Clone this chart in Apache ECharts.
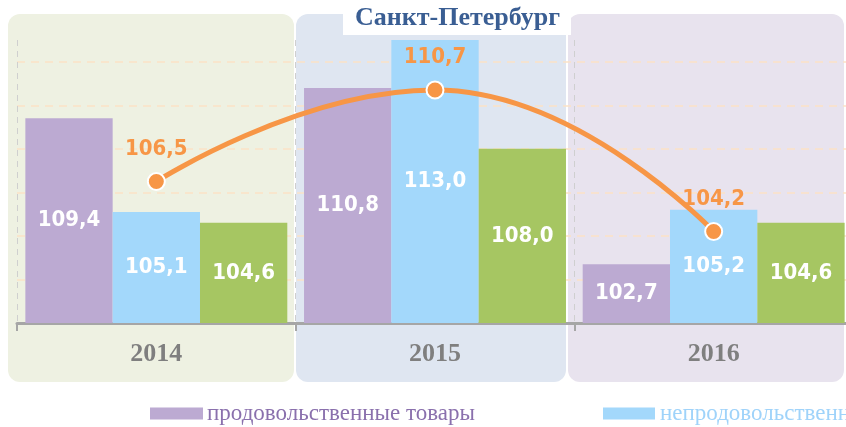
<!DOCTYPE html>
<html>
<head>
<meta charset="utf-8">
<script src="https://cdn.jsdelivr.net/npm/echarts@6/dist/echarts.min.js"></script>
<style>
html,body{margin:0;padding:0;background:#fff;}
#main{width:846px;height:427px;}
</style>
</head>
<body>
<div id="main"></div>
<script>
// данные
var years = ['2014', '2015', '2016'];
var food = [109.4, 110.8, 102.7];
var nonFood = [105.1, 113.0, 105.2];
var services = [104.6, 108.0, 104.6];
var total = [106.5, 110.7, 104.2];
var seriesNames = ['продовольственные товары', 'непродовольственные товары', 'услуги', 'все товары и услуги'];

var colors = ['#bcaad2', '#a3d8fb', '#a6c662', '#f79646'];
var numFont = "'DejaVu Sans Condensed', 'Liberation Sans Narrow', sans-serif";

function fmt(p) {
  return p.value.toFixed(1).replace('.', ',');
}

var myChart = echarts.init(document.getElementById('main'));

function barSeries(name, data, color) {
  return {
    name: name,
    type: 'bar',
    data: data,
    barGap: '0%',
    barCategoryGap: '6%',
    itemStyle: { color: color },
    label: {
      show: true,
      position: 'inside',
      color: '#fff',
      fontFamily: numFont,
      fontWeight: 'bold',
      fontSize: 22,
      formatter: fmt
    }
  };
}

var option = {
  title: {
    text: 'Санкт-Петербург',
    left: 343,
    top: 0,
    backgroundColor: '#fff',
    padding: [5, 11, 4, 12],
    textStyle: {
      fontFamily: 'Liberation Serif',
      fontWeight: 'bold',
      fontSize: 26,
      color: '#3a5e93'
    }
  },
  // фоновые панели
  graphic: [
    { type: 'rect', z: -10, shape: { x: 8, y: 14, width: 286, height: 368, r: 12 }, style: { fill: '#eef1e2' } },
    { type: 'rect', z: -10, shape: { x: 296, y: 14, width: 270, height: 368, r: 12 }, style: { fill: '#dfe6f1' } },
    { type: 'rect', z: -10, shape: { x: 568, y: 14, width: 276, height: 368, r: 12 }, style: { fill: '#e8e3ee' } }
  ],
  legend: [
    {
      left: 150, top: 402, padding: 0, itemWidth: 53, itemHeight: 12, icon: 'rect',
      textStyle: { fontFamily: 'Liberation Serif', fontSize: 23, padding: [0, 0, 0, -1] },
      data: [{ name: seriesNames[0], textStyle: { color: '#8a70ad' } }]
    },
    {
      left: 603, top: 402, padding: 0, itemWidth: 52, itemHeight: 12, icon: 'rect',
      textStyle: { fontFamily: 'Liberation Serif', fontSize: 23 },
      data: [{ name: seriesNames[1], textStyle: { color: '#9fd3fa' } }]
    },
    {
      left: 1000, top: 402, padding: 0, itemWidth: 52, itemHeight: 12, icon: 'rect',
      textStyle: { fontFamily: 'Liberation Serif', fontSize: 23 },
      data: [{ name: seriesNames[2], textStyle: { color: '#a6c662' } }]
    }
  ],
  grid: { left: 17, right: -7, top: 40, bottom: 104, outerBoundsMode: 'none' },
  xAxis: {
    type: 'category',
    data: years,
    axisLine: { lineStyle: { color: '#a6a6a6', width: 3 } },
    axisTick: { show: true, length: 8, lineStyle: { color: '#a6a6a6', width: 2 } },
    axisLabel: {
      margin: 18,
      fontFamily: 'Liberation Serif',
      fontWeight: 'bold',
      fontSize: 26,
      color: '#7f7f7f'
    },
    splitLine: { show: true, lineStyle: { color: '#cfcfcf', type: [6, 5], width: 1 } }
  },
  yAxis: {
    type: 'value',
    min: 100,
    max: 113,
    interval: 2,
    axisLine: { show: false },
    axisTick: { show: false },
    axisLabel: { show: false },
    splitLine: { show: true, showMaxLine: false, lineStyle: { color: '#fbe2c6', type: [8, 6], width: 1.5 } }
  },
  series: [
    barSeries(seriesNames[0], food, colors[0]),
    barSeries(seriesNames[1], nonFood, colors[1]),
    barSeries(seriesNames[2], services, colors[2]),
    {
      name: seriesNames[3],
      type: 'line',
      data: total,
      smooth: 0.5,
      z: 5,
      symbol: 'circle',
      symbolSize: 17,
      lineStyle: { color: colors[3], width: 5 },
      itemStyle: { color: colors[3], borderColor: '#fff', borderWidth: 2 },
      label: {
        show: true,
        position: 'top',
        distance: 12,
        color: colors[3],
        fontFamily: numFont,
        fontWeight: 'bold',
        fontSize: 22,
        formatter: fmt
      }
    }
  ]
};

myChart.setOption(option);
</script>
</body>
</html>
